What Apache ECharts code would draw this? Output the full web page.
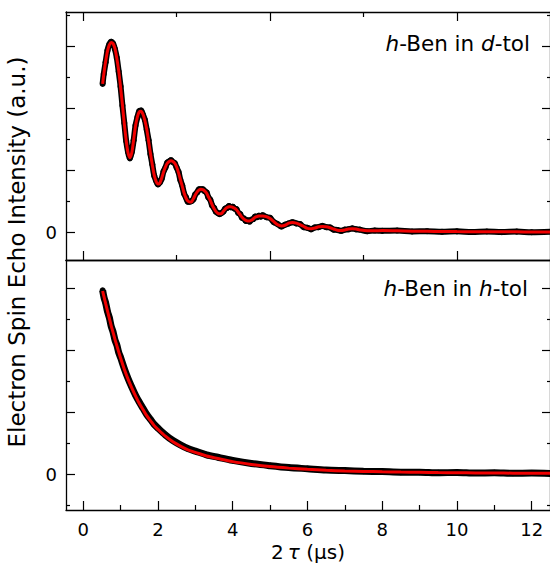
<!DOCTYPE html>
<html><head><meta charset="utf-8">
<script src="https://cdn.jsdelivr.net/npm/echarts@6/dist/echarts.min.js"></script>
<style>html,body{margin:0;padding:0;background:#fff}#c{width:550px;height:565px}</style>
</head><body><div id="c"></div>
<script>
// ---- data (2tau in microseconds, intensity in arbitrary units) ----
const topT = [0.52,0.55,0.60,0.65,0.70,0.75,0.80,0.85,0.90,0.95,
1.00,1.05,1.10,1.15,1.20,1.25,1.30,1.35,1.40,1.45,
1.50,1.55,1.60,1.65,1.70,1.75,1.80,1.85,1.90,1.95,
2.00,2.05,2.10,2.15,2.20,2.25,2.30,2.35,2.40,2.45,
2.50,2.55,2.60,2.65,2.70,2.75,2.80,2.85,2.90,2.95,
3.00,3.05,3.10,3.15,3.20,3.25,3.30,3.35,3.40,3.45,
3.50,3.55,3.60,3.65,3.70,3.75,3.80,3.85,3.90,3.95,
4.00,4.05,4.10,4.15,4.20,4.25,4.30,4.35,4.40,4.45,
4.50,4.55,4.60,4.65,4.70,4.75,4.80,
4.90,5.00,5.10,5.20,5.30,5.40,5.50,5.60,5.70,5.80,5.90,
6.00,6.10,6.20,6.30,6.40,6.50,6.60,6.70,6.80,6.90,
7.00,7.10,7.20,7.30,7.40,7.60,7.80,8.00,8.40,8.80,
9.20,9.60,10.0,10.4,10.8,11.2,11.6,12.0,12.5];
const topData = [2.40,2.56,2.75,2.94,3.04,3.08,3.05,2.96,2.82,2.60,
2.36,2.05,1.77,1.48,1.30,1.20,1.30,1.49,1.73,1.86,
1.96,1.97,1.90,1.82,1.66,1.49,1.27,1.10,0.92,0.84,
0.78,0.81,0.87,0.99,1.05,1.13,1.15,1.17,1.14,1.12,
1.05,0.98,0.85,0.76,0.63,0.57,0.50,0.50,0.51,0.54,
0.62,0.65,0.70,0.70,0.70,0.67,0.65,0.57,0.53,0.44,
0.40,0.34,0.32,0.30,0.32,0.34,0.39,0.40,0.43,0.41,
0.42,0.39,0.38,0.32,0.30,0.24,0.23,0.19,0.20,0.18,
0.21,0.22,0.26,0.25,0.275,0.26,0.28,
0.25,0.24,0.17,0.14,0.10,0.13,0.15,0.17,0.15,0.14,0.09,
0.08,0.055,0.085,0.09,0.11,0.09,0.085,0.05,0.045,0.03,
0.05,0.055,0.07,0.055,0.05,0.025,0.035,0.03,0.035,0.02,
0.025,0.015,0.022,0.012,0.02,0.01,0.018,0.008,0.015];
const topFit = [2.40,2.55,2.76,2.93,3.03,3.07,3.05,2.97,2.81,2.61,
2.35,2.06,1.76,1.49,1.29,1.21,1.29,1.50,1.72,1.87,
1.95,1.96,1.91,1.81,1.67,1.48,1.28,1.09,0.93,0.83,
0.785,0.80,0.88,0.98,1.06,1.12,1.15,1.16,1.15,1.12,
1.06,0.97,0.86,0.75,0.64,0.56,0.51,0.495,0.50,0.55,
0.61,0.66,0.69,0.70,0.695,0.675,0.64,0.58,0.52,0.45,
0.39,0.345,0.315,0.305,0.31,0.345,0.38,0.405,0.42,0.42,
0.41,0.395,0.37,0.33,0.29,0.25,0.22,0.20,0.19,0.19,
0.20,0.225,0.25,0.262,0.268,0.27,0.27,
0.26,0.23,0.18,0.13,0.11,0.12,0.155,0.165,0.155,0.13,0.10,
0.07,0.065,0.075,0.095,0.10,0.095,0.08,0.06,0.04,0.037,
0.045,0.06,0.065,0.06,0.045,0.03,0.03,0.035,0.03,0.025,
0.022,0.02,0.018,0.017,0.015,0.015,0.014,0.013,0.012];

const botT = [0.52,0.56,0.60,0.65,0.70,0.75,0.80,0.85,0.90,0.95,
1.00,1.10,1.20,1.30,1.40,1.50,1.60,1.70,1.80,1.90,
2.00,2.20,2.40,2.60,2.80,3.00,3.30,3.60,4.00,4.50,
5.00,5.50,6.00,6.50,7.00,7.50,8.00,8.50,9.00,9.50,
10.0,10.5,11.0,11.5,12.0,12.5];
const botData = [2.96,2.84,2.76,2.62,2.52,2.38,2.29,2.16,2.08,1.96,
1.88,1.70,1.54,1.40,1.27,1.16,1.06,0.96,0.88,0.80,
0.74,0.63,0.54,0.47,0.41,0.37,0.31,0.27,0.22,0.17,
0.135,0.105,0.085,0.065,0.055,0.045,0.04,0.03,0.03,0.02,
0.025,0.015,0.02,0.012,0.016,0.01];
const botFit = [2.95,2.85,2.75,2.63,2.51,2.39,2.28,2.17,2.07,1.97,
1.87,1.69,1.53,1.39,1.26,1.14,1.04,0.94,0.86,0.78,
0.72,0.61,0.52,0.45,0.39,0.35,0.29,0.25,0.20,0.155,
0.12,0.095,0.075,0.06,0.05,0.042,0.036,0.031,0.027,0.023,
0.02,0.018,0.016,0.014,0.013,0.012];

// ---- tick positions and labels ----
const xMajorTicks = [0,2,4,6,8,10,12];
const xMinorTicks = [1,3,5,7,9,11];
const xLabels = [0,2,4,6,8,10,12];
const xPanelMajor = [0,5,10];
const xPanelMinor = [2.5,7.5];
const yMajorTicks = [0,1,2,3];
const topYMinor = [0.5,1.5,2.5,3.5];
const botYMinor = [-0.5,0.5,1.5,2.5];
const yLabels = [0];
const labelTop = '{i|h}-Ben in {i|d}-tol';
const labelBot = '{i|h}-Ben in {i|h}-tol';
const xTitle = '2\u2009{i|\u03c4} (\u03bcs)';
const yTitle = 'Electron Spin Echo Intensity (a.u.)';

const FONT = '"DejaVu Sans", "Liberation Sans", Arial, sans-serif';
const XMIN = -0.46, XMAX = 12.49;
const zip = (a, b) => a.map((v, i) => [v, b[i]]);

function xAx(gridIndex, position, ticks, len, showLine, labels, name) {
  const o = {type:'value', gridIndex, position, min:XMIN, max:XMAX,
    axisLine:{show:showLine, onZero:false, lineStyle:{color:'#000', width:1.3}},
    axisTick:{show:ticks.length>0, inside:true, length:len, customValues:ticks, lineStyle:{color:'#000', width:1.2}},
    axisLabel:{show:!!labels, customValues:labels||[], margin:10, color:'#000', fontSize:18, lineHeight:18, fontFamily:FONT},
    splitLine:{show:false}};
  if (name) {
    o.name = name; o.nameLocation = 'middle'; o.nameGap = 32;
    o.nameTextStyle = {fontSize:20, lineHeight:20, color:'#000', fontFamily:FONT,
      rich:{i:{fontStyle:'italic', fontSize:20, lineHeight:20, color:'#000', fontFamily:FONT}}};
  }
  return o;
}
function yAx(gridIndex, position, min, max, ticks, len, showLine, labels) {
  return {type:'value', gridIndex, position, min, max,
    axisLine:{show:showLine, onZero:false, lineStyle:{color:'#000', width:1.3}},
    axisTick:{show:ticks.length>0, inside:true, length:len, customValues:ticks, lineStyle:{color:'#000', width:1.2}},
    axisLabel:{show:!!labels, customValues:labels||[], margin:9, color:'#000', fontSize:18, fontFamily:FONT},
    splitLine:{show:false}};
}
const TOPMIN = -0.44, TOPMAX = 3.56, BOTMIN = -0.58, BOTMAX = 3.45;
const annStyle = {fontSize:21.5, fontWeight:'normal', color:'#000', fontFamily:FONT,
  rich:{i:{fontStyle:'italic', fontSize:21.5, color:'#000', fontFamily:FONT}}};

const chart = echarts.init(document.getElementById('c'), null, {renderer:'svg'});
chart.setOption({
  animation:false,
  backgroundColor:'#fff',
  grid:[{left:66, top:12, width:485, height:248},
        {left:66, top:260, width:485, height:250}],
  xAxis:[
    xAx(0,'bottom',xPanelMajor,9,true),
    xAx(0,'bottom',xPanelMinor,5,false),
    xAx(0,'top',xPanelMajor,9,true),
    xAx(0,'top',xPanelMinor,5,false),
    xAx(1,'bottom',xMajorTicks,9,true,xLabels,xTitle),
    xAx(1,'bottom',xMinorTicks,5,false),
    xAx(1,'top',[],0,true)
  ],
  yAxis:[
    yAx(0,'left',TOPMIN,TOPMAX,yMajorTicks,9,true,yLabels),
    yAx(0,'left',TOPMIN,TOPMAX,topYMinor,4,false),
    yAx(0,'right',TOPMIN,TOPMAX,yMajorTicks,8,true),
    yAx(0,'right',TOPMIN,TOPMAX,topYMinor,3,false),
    yAx(1,'left',BOTMIN,BOTMAX,yMajorTicks,9,true,yLabels),
    yAx(1,'left',BOTMIN,BOTMAX,botYMinor,4,false),
    yAx(1,'right',BOTMIN,BOTMAX,yMajorTicks,8,true),
    yAx(1,'right',BOTMIN,BOTMAX,botYMinor,3,false)
  ],
  title:[
    {text:labelTop, right:15, top:27, textStyle:annStyle},
    {text:labelBot, right:17, top:272, textStyle:annStyle}
  ],
  graphic:[{type:'text', x:17, y:252, rotation:Math.PI/2,
    style:{text:yTitle, fontSize:23, fontFamily:FONT, fill:'#000', align:'center', verticalAlign:'middle'}}],
  series:[
    {type:'line', xAxisIndex:0, yAxisIndex:0, data:zip(topT, topData), smooth:0.3,
     symbol:'circle', symbolSize:6, showSymbol:true, showAllSymbol:true,
     lineStyle:{color:'#000', width:6}, itemStyle:{color:'#000'}, z:2, silent:true},
    {type:'line', xAxisIndex:0, yAxisIndex:0, data:zip(topT, topFit), smooth:0.3,
     symbol:'none', lineStyle:{color:'#f00000', width:3}, z:3, silent:true},
    {type:'line', xAxisIndex:4, yAxisIndex:4, data:zip(botT, botData), smooth:0.3,
     symbol:'circle', symbolSize:6, showSymbol:true, showAllSymbol:true,
     lineStyle:{color:'#000', width:7}, itemStyle:{color:'#000'}, z:2, silent:true},
    {type:'line', xAxisIndex:4, yAxisIndex:4, data:zip(botT, botFit), smooth:0.3,
     symbol:'none', lineStyle:{color:'#f00000', width:3}, z:3, silent:true}
  ]
});
</script></body></html>
